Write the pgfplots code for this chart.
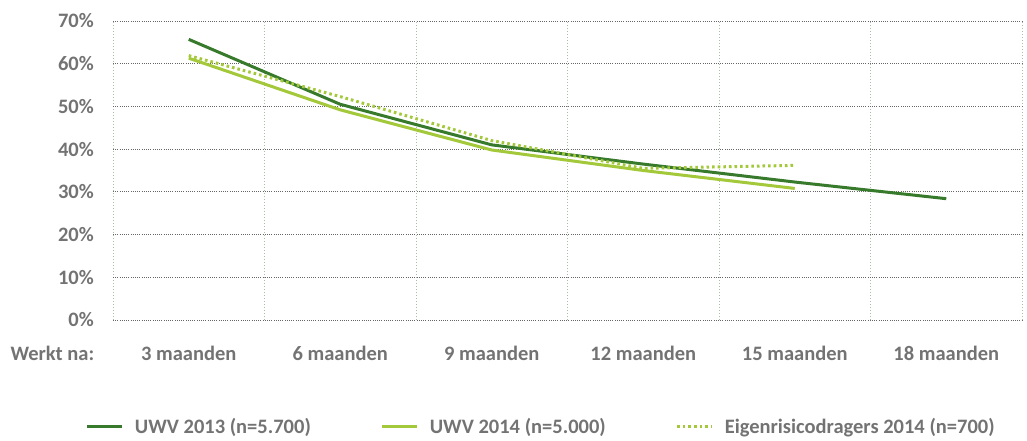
\documentclass[border=0pt]{standalone}
\usepackage{pgfplots}
\pgfplotsset{compat=1.18}
\usepackage{fontspec}
\setmainfont{Carlito}
\definecolor{dgreen}{HTML}{387A2B}
\definecolor{lgreen}{HTML}{A3C83A}
\definecolor{txt}{HTML}{737373}
\definecolor{vgrid}{HTML}{A8BCA8}
\newcommand{\lbl}{\fontsize{20.5bp}{24bp}\selectfont\bfseries}
\begin{document}
\begin{tikzpicture}
\useasboundingbox (0,0) rectangle (1027bp,441bp);
\begin{axis}[
  at={(113bp,121bp)}, anchor=south west,
  scale only axis, width=909bp, height=299bp,
  xmin=0, xmax=6, ymin=0, ymax=70,
  clip=false,
  axis line style={draw=none},
  xtick={0.5,1.5,2.5,3.5,4.5,5.5},
  xticklabels={3 maanden,6 maanden,9 maanden,12 maanden,15 maanden,18 maanden},
  minor xtick={0,1,2,3,4,5,6},
  ytick={0,10,20,30,40,50,60,70},
  yticklabel={\pgfmathprintnumber{\tick}\%},
  /pgf/number format/assume math mode=true,
  major tick length=0pt, minor tick length=0pt,
  ymajorgrids, xminorgrids,
  major grid style={draw=black!60, line width=0.9bp, dash pattern=on 1bp off 1.2bp},
  minor grid style={draw=vgrid, line width=0.9bp, dash pattern=on 1bp off 2bp},
  tick label style={font=\lbl, text=txt},
  xticklabel style={anchor=base, inner sep=0pt, yshift=-40bp},
  yticklabel style={anchor=east, inner sep=0pt, xshift=-19bp},
  legend columns=3,
  legend style={at={(rel axis cs:-0.03,-0.357)}, anchor=west, draw=none, fill=none,
    inner sep=0pt, font=\lbl, text=txt,
    nodes={inner sep=0pt},
    /tikz/every odd column/.append style={column sep=11bp},
    /tikz/every even column/.append style={column sep=70bp}},
  legend image code/.code={\draw[#1] (0bp,0bp) -- (35bp,0bp);},
]
\addplot[dgreen, line width=3bp] coordinates {(0.5,65.7) (1.5,50.5) (2.5,41.0) (3.5,36.5) (4.5,32.3) (5.5,28.4)};
\addlegendentry{UWV 2013 (n=5.700)}
\addplot[lgreen, line width=3bp] coordinates {(0.5,61.3) (1.5,49.2) (2.5,39.8) (3.5,35.0) (4.5,30.8)};
\addlegendentry{UWV 2014 (n=5.000)}
\addplot[lgreen, line width=3bp, dash pattern=on 2.6bp off 3bp] coordinates {(0.5,61.9) (1.5,52.3) (2.5,42.0) (3.5,35.5) (4.5,36.2)};
\addlegendentry{Eigenrisicodragers 2014 (n=700)}
\node[font=\lbl, text=txt, anchor=base, inner sep=0pt] at (axis cs:-0.4,0) [yshift=-40bp] {Werkt na:};
\end{axis}
\end{tikzpicture}
\end{document}
